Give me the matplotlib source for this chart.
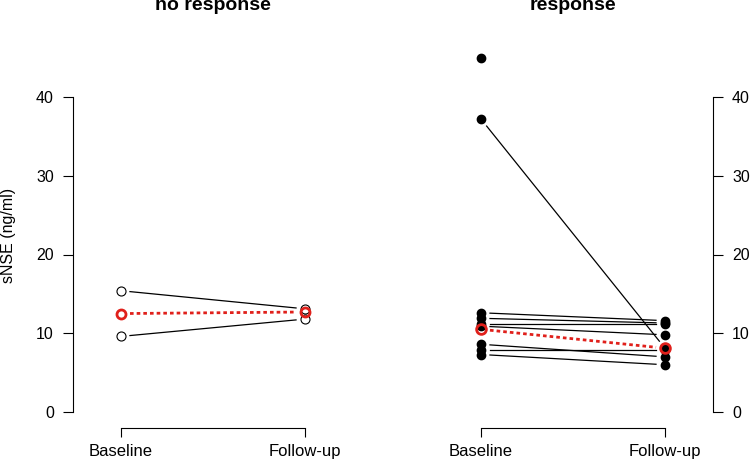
import numpy as np
import matplotlib.pyplot as plt

plt.rcParams['font.family'] = ['Liberation Sans', 'DejaVu Sans']

# values
x_labels = ['Baseline', 'Follow-up']
y_ticks = [0, 10, 20, 30, 40]

nr_baseline = [15.4, 9.6]
nr_followup = [13.1, 11.8]
nr_centre = [12.5, 12.7]

r_baseline = [37.2, 12.6, 11.9, 11.2, 10.9, 8.6, 7.9, 7.3]
r_followup = [8.1, 11.6, 11.3, 11.2, 9.8, 7.0, 7.9, 6.0]
r_baseline_only = [44.9]
r_centre = [10.5, 8.1]

RED = '#e0201b'
W, H = 750, 466


def gapped(ax, y0, y1, gap=9, **kw):
    """Line from Baseline to Follow-up with a gap round each point, like R type='b'."""
    p0, p1 = ax.transData.transform([(1, y0), (2, y1)])
    u = (p1 - p0) / np.hypot(*(p1 - p0))
    q0, q1 = ax.transData.inverted().transform([p0 + u * gap, p1 - u * gap])
    ax.plot([q0[0], q1[0]], [q0[1], q1[1]], **kw)


def setup(ax, side):
    ax.set_xlim(1 - 48 / 184, 2 + 48 / 184)
    ax.set_ylim(-16 / 7.875, 362 / 7.875)
    for s in ['top', 'left', 'right']:
        ax.spines[s].set_visible(False)
    ax.spines['bottom'].set_bounds(1, 2)
    ax.spines[side].set_visible(True)
    ax.spines[side].set_bounds(0, 40)
    for s in ax.spines.values():
        s.set_linewidth(0.8)
    ax.set_xticks([1, 2], x_labels)
    ax.set_yticks(y_ticks)
    ax.tick_params(axis='x', length=6.5, width=0.8, pad=5, labelsize=12)
    ax.tick_params(axis='y', length=7.2, width=0.8, pad=6.5, labelsize=11.5)
    if side == 'right':
        ax.yaxis.tick_right()
    ax.patch.set_visible(False)


fig = plt.figure(figsize=(W / 100, H / 100), dpi=100)
ax1 = fig.add_axes([73 / W, 38 / H, 280 / W, 378 / H])
ax2 = fig.add_axes([433 / W, 38 / H, 280 / W, 378 / H])
setup(ax1, 'left')
setup(ax2, 'right')

# no response: open circles
for a, b in zip(nr_baseline, nr_followup):
    gapped(ax1, a, b, color='black', lw=0.9)
ax1.plot([1] * len(nr_baseline), nr_baseline, 'o', ms=6.5, mfc='white', mec='black', mew=0.8)
ax1.plot([2] * len(nr_followup), nr_followup, 'o', ms=6.5, mfc='white', mec='black', mew=0.8)
gapped(ax1, nr_centre[0], nr_centre[1], color=RED, lw=2, dashes=(1.3, 1.1))
ax1.plot([1, 2], nr_centre, 'o', ms=6.5, mfc='none', mec=RED, mew=2)

# response: filled circles
for a, b in zip(r_baseline, r_followup):
    gapped(ax2, a, b, color='black', lw=0.9)
ax2.plot([1] * len(r_baseline + r_baseline_only), r_baseline + r_baseline_only, 'o',
         ms=6, color='black')
ax2.plot([2] * len(r_followup), r_followup, 'o', ms=6, color='black')
gapped(ax2, r_centre[0], r_centre[1], color=RED, lw=2, dashes=(1.3, 1.1))
ax2.plot([1, 2], r_centre, 'o', ms=7, mfc='none', mec=RED, mew=2)

fig.text(213 / W, 1 - 10 / H, 'no response', ha='center', va='baseline',
         fontsize=14, fontweight='bold')
fig.text(573 / W, 1 - 10 / H, 'response', ha='center', va='baseline',
         fontsize=14, fontweight='bold')
fig.text(9 / W, 1 - 235.5 / H, 'sNSE (ng/ml)', rotation=90, ha='center',
         va='center', fontsize=11.5)

fig.savefig('out.png', dpi=100)
